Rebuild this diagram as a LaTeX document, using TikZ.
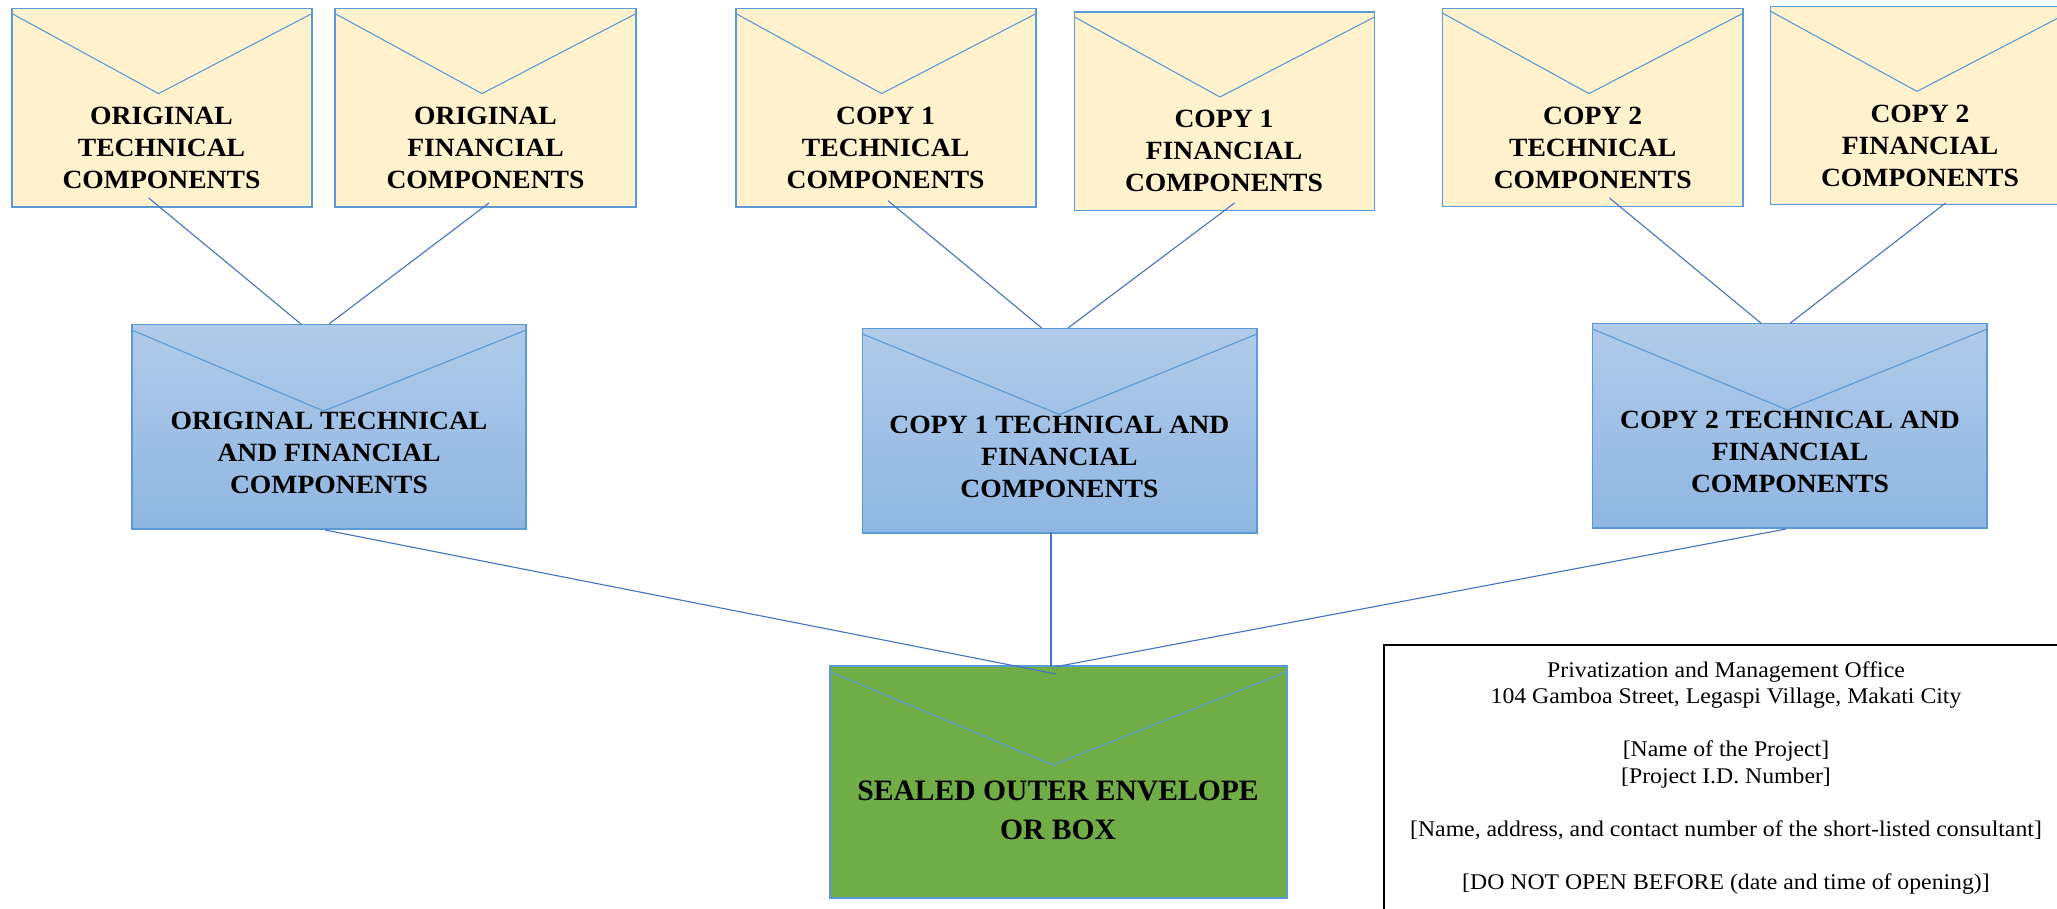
\documentclass[tikz,border=0pt]{standalone}
\usepackage{fontspec}
\setmainfont{Liberation Serif}[BoldFeatures={FakeStretch=1.05}]
\newfontfamily\plainserif{Liberation Serif}
\newfontfamily\wideserif{Liberation Serif}[FakeStretch=1.06]
\definecolor{edgeblue}{HTML}{5B9BD5}
\definecolor{linkblue}{HTML}{4472C4}
\definecolor{cream}{HTML}{FFF2CC}
\definecolor{leaf}{HTML}{70AD47}
\definecolor{bluetop}{RGB}{177,203,233}
\definecolor{bluebot}{RGB}{143,182,226}
\tikzset{
  envbox/.style={draw=edgeblue,line width=1.3pt,rectangle,inner sep=0pt,outer sep=0pt,anchor=north west},
  creambox/.style={envbox,fill=cream},
  bluebox/.style={envbox,top color=bluetop,bottom color=bluebot},
  greenbox/.style={envbox,fill=leaf},
  flap/.style={draw=edgeblue,line width=1.1pt,line join=miter},
  link/.style={draw=linkblue,line width=1.1pt},
  lab/.style={align=center,inner sep=0pt,font=\fontsize{26.3}{32}\selectfont\bfseries},
  labbig/.style={align=center,inner sep=0pt,font=\plainserif\fontsize{29.6}{39}\selectfont\bfseries},
  addr/.style={align=center,inner sep=0pt,font=\wideserif\fontsize{22.4}{26.5}\selectfont},
}
% name, x, y, w, h, style, flap drop, tip dx, tip dy
\newcommand{\envelopeshape}[9]{%
  \node[#6,minimum width=#4pt,minimum height=#5pt] (#1) at (#2,#3) {};
  \draw[flap] ([yshift=-#7pt]#1.north west) -- ([xshift=#8pt,yshift=-#9pt]#1.north west) -- ([yshift=-#7pt]#1.north east);
}
\begin{document}
\begin{tikzpicture}[x=1pt,y=-1pt]
\useasboundingbox (0,0) rectangle (2057,908);
\clip (0,0) rectangle (2057,908);
\fill[white] (0,0) rectangle (2057,908);

\envelopeshape{e1}{12}{8.6}{300}{198.4}{creambox}{5}{146.5}{85}
\envelopeshape{e2}{335}{8.6}{301}{198.4}{creambox}{5}{147}{85}
\envelopeshape{e3}{736}{8.6}{300}{198.4}{creambox}{5}{145.6}{85}
\envelopeshape{e4}{1074.5}{12}{300}{198.6}{creambox}{5}{145.5}{85}
\envelopeshape{e5}{1442.7}{8.2}{300.3}{198.6}{creambox}{5}{146.3}{85.4}
\envelopeshape{e6}{1770.8}{6.4}{300}{198.2}{creambox}{5}{146.2}{85}
\envelopeshape{b1}{132}{324.6}{394}{204.4}{bluebox}{5.5}{191.6}{86.4}
\envelopeshape{b2}{862.5}{328.5}{394.5}{204.5}{bluebox}{5.5}{197}{86}
\envelopeshape{b3}{1592.7}{323.6}{394.3}{204.4}{bluebox}{5.5}{194.8}{86.4}
\envelopeshape{g}{830}{666}{457}{232}{greenbox}{5.7}{223}{99}

\draw[link] ([xshift=136.7pt,yshift=9pt]e1.south west) -- ([xshift=169pt,yshift=.6pt]b1.north west);
\draw[link] ([xshift=154pt,yshift=4pt]e2.south west) -- ([xshift=197pt,yshift=.6pt]b1.north west);
\draw[link] ([xshift=152pt,yshift=6.3pt]e3.south west) -- ([xshift=179.2pt,yshift=.5pt]b2.north west);
\draw[link] ([xshift=160pt,yshift=7.6pt]e4.south west) -- ([xshift=205.5pt,yshift=.5pt]b2.north west);
\draw[link] ([xshift=166.8pt,yshift=8.8pt]e5.south west) -- ([xshift=168.8pt]b3.north west);
\draw[link] ([xshift=174.7pt,yshift=1.6pt]e6.south west) -- ([xshift=196.9pt]b3.north west);
\draw[link] ([xshift=193pt,yshift=-1pt]b1.south west) -- ([xshift=226pt,yshift=-8pt]g.north west);
\draw[link] ([xshift=188.5pt]b2.south west) -- ([xshift=221pt,yshift=-1pt]g.north west);
\draw[link] ([xshift=193.3pt,yshift=-1pt]b3.south west) -- ([xshift=226pt,yshift=-.7pt]g.north west);

\node[lab] (t1) at (161.5,148) {ORIGINAL\\TECHNICAL\\COMPONENTS};
\node[lab] (t2) at (485.5,148) {ORIGINAL\\FINANCIAL\\COMPONENTS};
\node[lab] (t3) at (885.6,148) {COPY 1\\TECHNICAL\\COMPONENTS};
\node[lab] (t4) at (1224,150.7) {COPY 1\\FINANCIAL\\COMPONENTS};
\node[lab] (t5) at (1592.7,148) {COPY 2\\TECHNICAL\\COMPONENTS};
\node[lab] (t6) at (1920,146) {COPY 2\\FINANCIAL\\COMPONENTS};
\node[lab] (t7) at (329,453) {ORIGINAL TECHNICAL\\AND FINANCIAL\\COMPONENTS};
\node[lab] (t8) at (1059.4,456.7) {COPY 1 TECHNICAL AND\\FINANCIAL\\COMPONENTS};
\node[lab] (t9) at (1790,452.2) {COPY 2 TECHNICAL AND\\FINANCIAL\\COMPONENTS};
\node[labbig] (t10) at (1058,810.5) {SEALED OUTER ENVELOPE\\OR BOX};

\node[draw=black,line width=2pt,inner sep=0pt,outer sep=0pt,anchor=north west,minimum width=800pt,minimum height=400pt] (addrbox) at (1384,645) {};
\node[addr,anchor=north] (addrtext) at (1726,661.5) {Privatization and Management Office\\104 Gamboa Street, Legaspi Village, Makati City\\ \\{}[Name of the Project]\\{}[Project I.D. Number]\\ \\{}[Name, address, and contact number of the short-listed consultant]\\ \\{}[DO NOT OPEN BEFORE (date and time of opening)]};
\end{tikzpicture}
\end{document}
